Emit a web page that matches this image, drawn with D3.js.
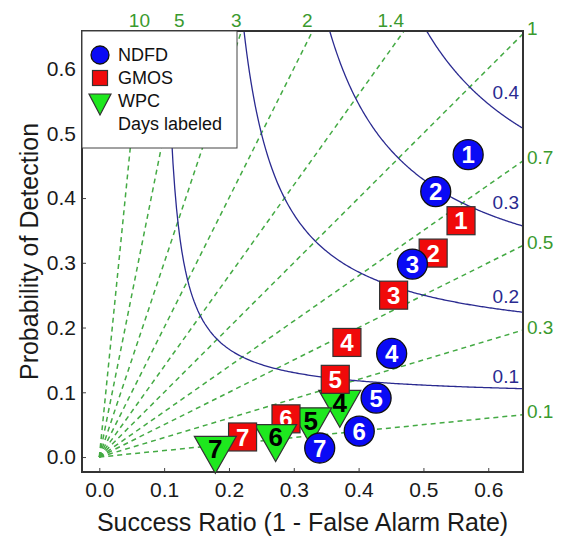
<!DOCTYPE html>
<html>
<head>
<meta charset="utf-8">
<script src="https://cdn.jsdelivr.net/npm/d3@7"></script>
<style>
  body { margin: 0; background: #fff; }
  svg { font-family: "Liberation Sans", Arial, sans-serif; }
</style>
</head>
<body>
<svg id="chart" width="575" height="544"></svg>
<script>
// performance diagram: success ratio vs probability of detection
var DAYS = [1, 2, 3, 4, 5, 6, 7];
var NDFD_SR  = [0.569, 0.519, 0.483, 0.451, 0.427, 0.401, 0.340];
var NDFD_POD = [0.467, 0.410, 0.298, 0.160, 0.091, 0.040, 0.014];
var GMOS_SR  = [0.558, 0.515, 0.454, 0.382, 0.364, 0.288, 0.221];
var GMOS_POD = [0.365, 0.315, 0.250, 0.177, 0.120, 0.059, 0.031];
var WPC_DAYS = [4, 5, 6, 7];
var WPC_SR   = [0.371, 0.326, 0.272, 0.179];
var WPC_POD  = [0.084, 0.057, 0.031, 0.013];

var BIAS = [10, 5, 3, 2, 1.4, 1, 0.7, 0.5, 0.3, 0.1];
var CSI  = [0.1, 0.2, 0.3, 0.4];
var TICKS = [0, 0.1, 0.2, 0.3, 0.4, 0.5, 0.6];
var SERIES = ['NDFD', 'GMOS', 'WPC'];

var margin = {left: 82, top: 31},
    width = 441, height = 441;

var svg = d3.select('#chart');
var g = svg.append('g').attr('transform', 'translate(' + margin.left + ',' + margin.top + ')');

var x = d3.scaleLinear().domain([-0.0267, 0.6536]).range([0, width]);
var y = d3.scaleLinear().domain([-0.0231, 0.658]).range([height, 0]);
var xMax = x.domain()[1], yMax = y.domain()[1];

svg.append('defs').append('clipPath').attr('id', 'plotclip')
  .append('rect').attr('width', width).attr('height', height);

var plot = g.append('g').attr('clip-path', 'url(#plotclip)');

// bias lines
var green = '#3a9a2e';
BIAS.forEach(function(b){
  var end = b >= 1 ? [yMax / b, yMax] : [xMax, b * xMax];
  plot.append('line')
    .attr('x1', x(0)).attr('y1', y(0))
    .attr('x2', x(end[0])).attr('y2', y(end[1]))
    .attr('stroke', '#44aa44').attr('stroke-width', 1.5)
    .attr('stroke-dasharray', '5,4');
  var t = g.append('text').text(b).attr('fill', green).attr('font-size', 19);
  if (b > 1) {
    t.attr('x', x(end[0]) + (b == 10 ? 8 : 0)).attr('y', -4).attr('text-anchor', 'end');
  } else {
    t.attr('x', width + 4).attr('y', y(end[1]) - 3).attr('dy', '0.35em');
  }
});

// CSI curves
var navy = '#2a2a90';
CSI.forEach(function(c){
  var sr0 = 1 / (1 / c + 1 - 1 / yMax);
  var pts = d3.range(0, 1.0001, 0.005).map(function(t){
    var sr = sr0 + t * (xMax - sr0);
    return [sr, 1 / (1 / c + 1 - 1 / sr)];
  });
  plot.append('path')
    .attr('d', d3.line().x(function(d){ return x(d[0]); }).y(function(d){ return y(d[1]); })(pts))
    .attr('fill', 'none').attr('stroke', navy).attr('stroke-width', 1.3);
  var podAt = 1 / (1 / c + 1 - 1 / 0.6);
  g.append('text').text(c)
    .attr('x', width - 4).attr('y', y(podAt) - 5)
    .attr('text-anchor', 'end').attr('fill', navy).attr('font-size', 19);
});

// axes
var xAxis = g.append('g').attr('transform', 'translate(0,' + height + ')')
  .call(d3.axisBottom(x).tickValues(TICKS).tickFormat(d3.format('.1f'))
    .tickSizeInner(-4).tickSizeOuter(0).tickPadding(10));
var yAxis = g.append('g')
  .call(d3.axisLeft(y).tickValues(TICKS).tickFormat(d3.format('.1f'))
    .tickSizeInner(-4).tickSizeOuter(0).tickPadding(6));
[xAxis, yAxis].forEach(function(a){
  a.select('.domain').remove();
  a.selectAll('line').attr('stroke', '#444');
  a.selectAll('text').attr('font-size', 21).attr('fill', '#1a1a1a').attr('font-family', null);
});

// frame
g.append('rect').attr('width', width).attr('height', height)
  .attr('fill', 'none').attr('stroke', '#333').attr('stroke-width', 2);

// markers
function circle(sel, r){ sel.append('circle').attr('r', r).attr('fill', '#0a0af5').attr('stroke', '#111').attr('stroke-width', 1.3); }
function square(sel, s){ sel.append('rect').attr('x', -s/2).attr('y', -s/2).attr('width', s).attr('height', s).attr('fill', '#f00a0a').attr('stroke', '#333').attr('stroke-width', 1.2); }
function tri(sel, w, h){ sel.append('path').attr('d', 'M' + (-w/2) + ',' + (-h/3) + 'L' + (w/2) + ',' + (-h/3) + 'L0,' + (2*h/3) + 'Z').attr('fill', '#1ee81e').attr('stroke', '#333').attr('stroke-width', 1.2); }

// drawn day by day so later days sit on top, like the original
var points = [];
DAYS.forEach(function(d, i){
  points.push({type: 'NDFD', day: d, sr: NDFD_SR[i], pod: NDFD_POD[i]});
  points.push({type: 'GMOS', day: d, sr: GMOS_SR[i], pod: GMOS_POD[i]});
  var w = WPC_DAYS.indexOf(d);
  if (w >= 0) points.push({type: 'WPC', day: d, sr: WPC_SR[w], pod: WPC_POD[w]});
});

points.forEach(function(p){
  var m = g.append('g').attr('transform', 'translate(' + x(p.sr) + ',' + y(p.pod) + ')');
  if (p.type == 'NDFD') circle(m, 15);
  else if (p.type == 'GMOS') square(m, 28);
  else tri(m, 42, 37);
  m.append('text').text(p.day)
    .attr('text-anchor', 'middle').attr('dy', '0.36em')
    .attr('font-weight', 'bold')
    .attr('font-size', p.type == 'WPC' ? 26 : 24)
    .attr('fill', p.type == 'WPC' ? '#000' : '#fff');
});

// legend
var lg = g.append('g');
lg.append('rect').attr('width', 155).attr('height', 117)
  .attr('fill', '#fff').attr('stroke', '#444').attr('stroke-width', 1);
SERIES.forEach(function(s, i){
  var row = lg.append('g').attr('transform', 'translate(18,' + (24 + i * 23) + ')');
  if (s == 'NDFD') circle(row, 9);
  else if (s == 'GMOS') square(row, 15);
  else tri(row, 22, 21);
  row.append('text').text(s).attr('x', 18).attr('dy', '0.35em').attr('font-size', 18).attr('fill', '#111');
});
lg.append('text').text('Days labeled').attr('x', 36).attr('y', 93).attr('dy', '0.35em')
  .attr('font-size', 18).attr('fill', '#111');

// axis titles
svg.append('text').text('Success Ratio (1 - False Alarm Rate)')
  .attr('x', margin.left + width / 2).attr('y', 531)
  .attr('text-anchor', 'middle').attr('font-size', 25).attr('fill', '#1a1a1a');
svg.append('text').text('Probability of Detection')
  .attr('transform', 'translate(38,' + (margin.top + height / 2) + ') rotate(-90)')
  .attr('text-anchor', 'middle').attr('font-size', 25).attr('fill', '#1a1a1a');
</script>
</body>
</html>
